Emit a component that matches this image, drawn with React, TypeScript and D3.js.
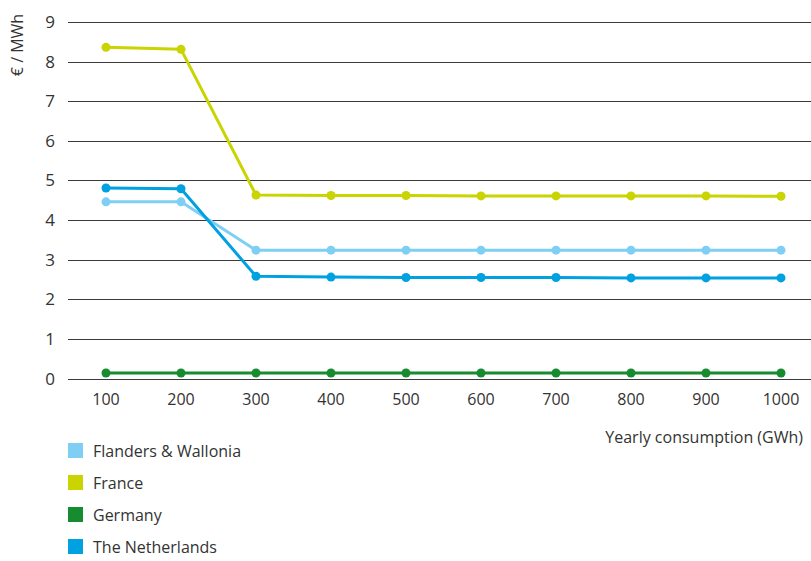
import React from "react";
import * as d3 from "d3";

const categories = ["100", "200", "300", "400", "500", "600", "700", "800", "900", "1000"];
const flanders = [4.46, 4.46, 3.24, 3.24, 3.24, 3.24, 3.24, 3.24, 3.24, 3.24];
const france = [8.36, 8.31, 4.63, 4.62, 4.62, 4.61, 4.61, 4.61, 4.61, 4.60];
const germany = [0.14, 0.14, 0.14, 0.14, 0.14, 0.14, 0.14, 0.14, 0.14, 0.14];
const netherlands = [4.81, 4.79, 2.58, 2.56, 2.55, 2.55, 2.55, 2.54, 2.54, 2.54];
const yTicks = [0, 1, 2, 3, 4, 5, 6, 7, 8, 9];

const series = [
  { name: "Flanders & Wallonia", values: flanders, color: "#7fcff5" },
  { name: "France", values: france, color: "#c9d400" },
  { name: "Germany", values: germany, color: "#168b2f" },
  { name: "The Netherlands", values: netherlands, color: "#00a1e1" },
];
const drawOrder = [1, 0, 3, 2];

export default function App() {
  const W = 811, H = 561;
  const x = d3.scalePoint<string>().domain(categories).range([68.5, 818.5]).padding(0.5);
  const y = d3.scaleLinear().domain([0, 9]).range([378.5, 22]);
  const line = d3.line<number>().x((_, i) => x(categories[i])!).y((d) => y(d));
  const font = "'Open Sans', sans-serif";
  return (
    <svg width={W} height={H} style={{ position: "absolute", left: 0, top: 0, background: "#fff" }} fontFamily={font}>
      {yTicks.map((t) => (
        <g key={t}>
          <line x1={68} x2={W} y1={Math.round(y(t)) + 0.5} y2={Math.round(y(t)) + 0.5} stroke="#3a3a3a" strokeWidth={1} />
          <text x={55} y={y(t) + 6} textAnchor="end" fontSize={17} fill="#333">{t}</text>
        </g>
      ))}
      <text transform="translate(23,45) rotate(-90)" textAnchor="middle" fontSize={16} fill="#333">€ / MWh</text>
      {categories.map((c) => (
        <text key={c} x={x(c)} y={405} textAnchor="middle" fontSize={16} fill="#333">{c}</text>
      ))}
      <text x={803} y={443} textAnchor="end" fontSize={16} fill="#333">Yearly consumption (GWh)</text>
      {drawOrder.map((si) => {
        const s = series[si];
        return (
          <g key={s.name}>
            <path d={line(s.values) || ""} fill="none" stroke={s.color} strokeWidth={3} strokeLinejoin="round" />
            {s.values.map((v, i) => (
              <circle key={i} cx={x(categories[i])} cy={y(v)} r={4.5} fill={s.color} />
            ))}
          </g>
        );
      })}
      {series.map((s, i) => (
        <g key={s.name} transform={`translate(68,${443 + i * 32})`}>
          <rect x={0} y={0} width={15} height={15} fill={s.color} />
          <text x={25} y={14} fontSize={16} fill="#333">{s.name}</text>
        </g>
      ))}
    </svg>
  );
}
